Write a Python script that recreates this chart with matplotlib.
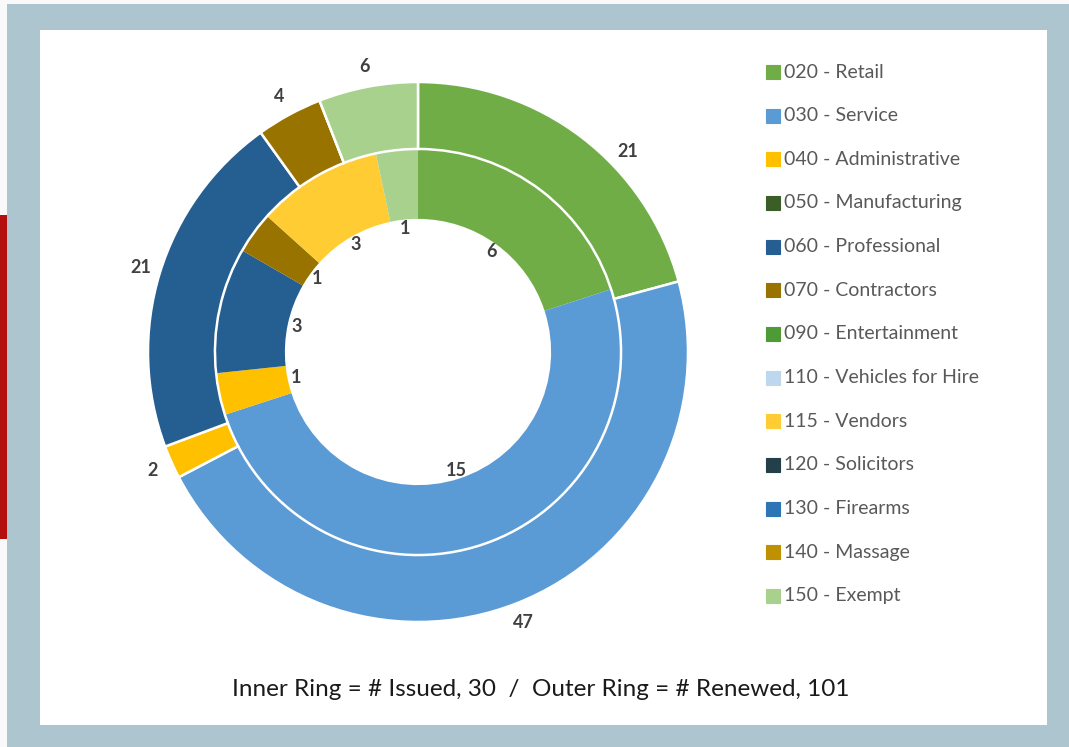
import matplotlib
matplotlib.use("Agg")
import matplotlib.pyplot as plt
from matplotlib.patches import Rectangle
import numpy as np

# ---- data ----
ring_categories = ["020 - Retail", "030 - Service", "040 - Administrative",
                   "060 - Professional", "070 - Contractors", "115 - Vendors",
                   "150 - Exempt"]
inner_issued = [6, 15, 1, 3, 1, 3, 1]
outer_renewed = [21, 47, 2, 21, 4, 0, 6]

legend_labels = ["020 - Retail", "030 - Service", "040 - Administrative",
                 "050 - Manufacturing", "060 - Professional", "070 - Contractors",
                 "090 - Entertainment", "110 - Vehicles for Hire", "115 - Vendors",
                 "120 - Solicitors", "130 - Firearms", "140 - Massage", "150 - Exempt"]
legend_colors = ["#70ad47", "#5b9bd5", "#ffc000", "#3b5e26", "#255e91", "#997300",
                 "#4e9a34", "#bdd7ee", "#ffcd33", "#233f4a", "#2e75b6", "#bf9000",
                 "#a9d18e"]
color_of = dict(zip(legend_labels, legend_colors))
footer = "Inner Ring = # Issued, 30  /  Outer Ring = # Renewed, 101"

W, H = 1069, 747
fig = plt.figure(figsize=(W / 100, H / 100), dpi=100)
fig.patch.set_facecolor("#f9f9f9")

def px_rect(x0, y0, x1, y1, color, z=-10):
    fig.patches.append(Rectangle((x0 / W, 1 - y1 / H), (x1 - x0) / W, (y1 - y0) / H,
                                 transform=fig.transFigure, facecolor=color,
                                 edgecolor="none", zorder=z))

px_rect(7, 4, 1069, 747, "#adc5cf", -10)
px_rect(40, 30, 1047, 725, "#ffffff", -9)
px_rect(0, 215, 7, 539, "#b51010", -9)

# ---- donut ----
cx, cy, R = 418, 352, 270
half = 300
ax = fig.add_axes([(cx - half) / W, (H - cy - half) / H, 2 * half / W, 2 * half / H])
ax.set_zorder(5)
ax.patch.set_alpha(0)
lim = half / R

r_out, r_mid, r_hole = 1.0, 0.752, 0.493
cols = [color_of[c] for c in ring_categories]
ax.pie(inner_issued, radius=r_mid, colors=cols, startangle=90, counterclock=False,
       wedgeprops=dict(width=r_mid - r_hole, edgecolor="none", linewidth=0))
ax.pie(outer_renewed, radius=r_out, colors=cols, startangle=90, counterclock=False,
       wedgeprops=dict(width=r_out - r_mid, edgecolor="white", linewidth=1.8))
ax.set_xlim(-lim, lim)
ax.set_ylim(-lim, lim)
ax.set_aspect("equal")
ax.axis("off")

lab_kw = dict(ha="center", va="center", fontsize=13, fontweight="bold",
              color="#404040", family=["Lato", "DejaVu Sans"])

def place_labels(values, radius, nudges=None):
    total = sum(values)
    start = 0.0
    for i, v in enumerate(values):
        span = 360.0 * v / total
        if v > 0:
            a = start + span / 2 + (nudges[i] if nudges else 0)
            t = np.deg2rad(a)
            ax.text(radius * np.sin(t), radius * np.cos(t), str(v), **lab_kw)
        start += span

place_labels(outer_renewed, 1.075, nudges=[9, 0, 0, 0, 0, 0, 0])
place_labels(inner_issued, 0.46)

# ---- legend ----
y0, dy = 72, 43.65
for i, (lab, col) in enumerate(zip(legend_labels, legend_colors)):
    yc = y0 + i * dy
    fig.patches.append(Rectangle((766 / W, 1 - (yc + 7) / H), 14 / W, 14 / H,
                                 transform=fig.transFigure, facecolor=col,
                                 edgecolor=col, linewidth=0.8, zorder=3))
    fig.text(784 / W, 1 - yc / H, lab, ha="left", va="center", fontsize=14,
             color="#595959", family=["Lato", "DejaVu Sans"])

fig.text(541 / W, 1 - 689 / H, footer, ha="center", va="center", fontsize=17.5,
         color="#1a1a1a", family=["Lato", "DejaVu Sans"])

fig.savefig("out.png", dpi=100, facecolor=fig.get_facecolor())
